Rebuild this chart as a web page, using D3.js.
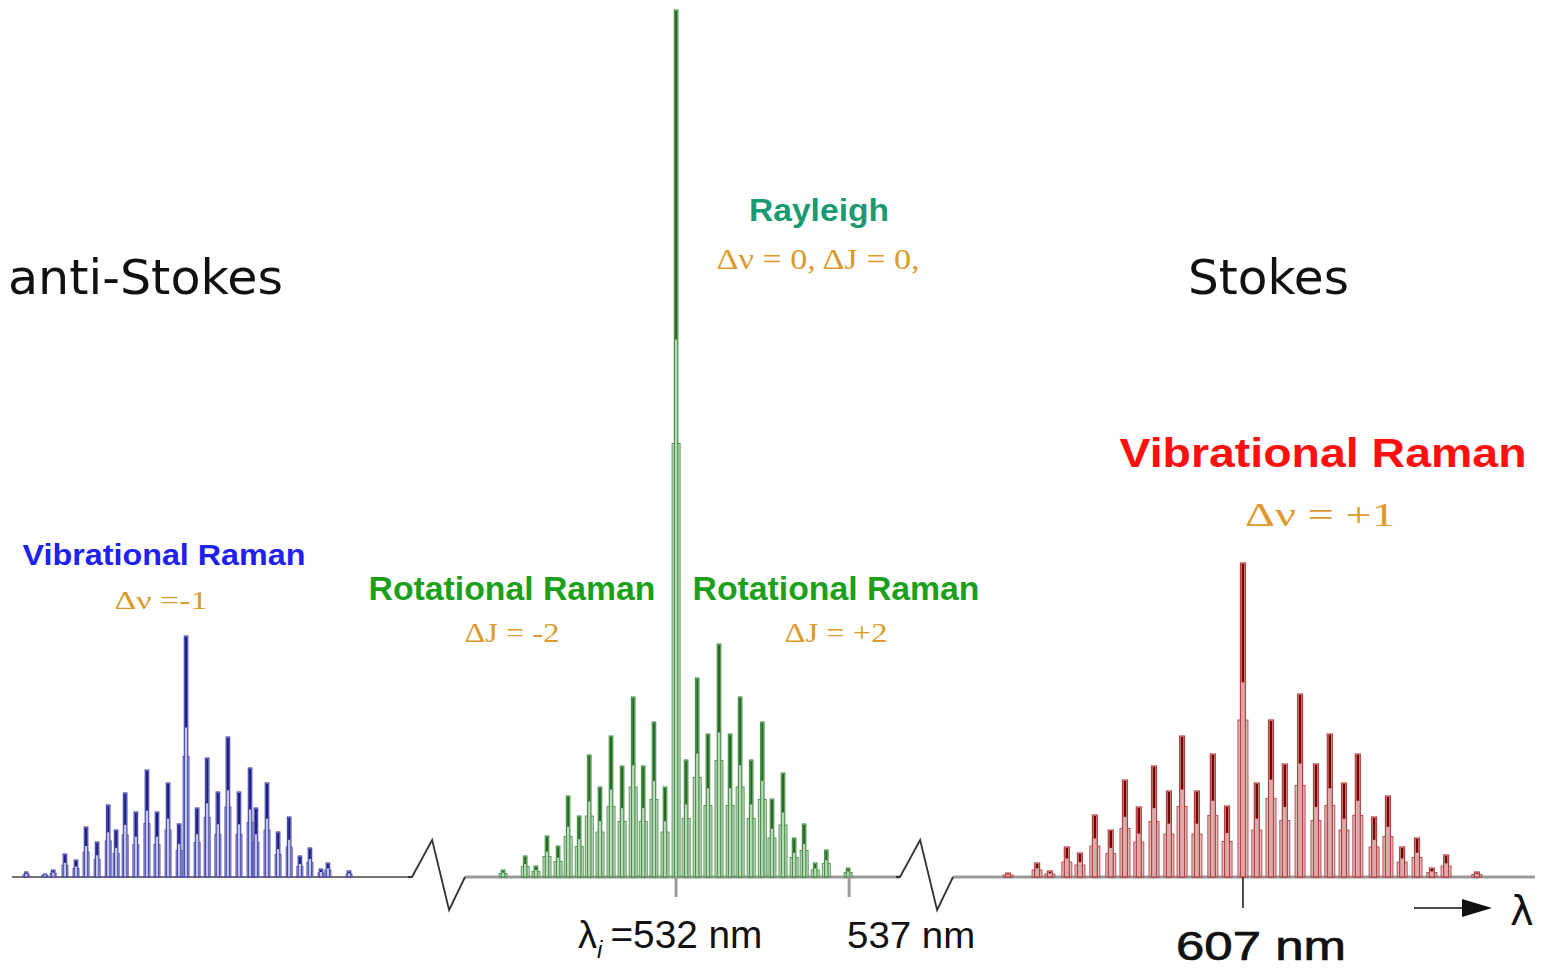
<!DOCTYPE html>
<html><head><meta charset="utf-8">
<script src="https://cdn.jsdelivr.net/npm/d3@7"></script>
<style>html,body{margin:0;padding:0;background:#fff;overflow:hidden}</style>
</head><body>
<svg id="c" width="1547" height="969"></svg>
<script>
// ---- data (wavelength in nm, intensity in arbitrary units) ----
const antiStokesNm = [468.38,468.92,469.16,469.50,469.82,470.11,470.43,470.75,470.98,471.24,471.55,471.87,472.16,472.48,472.80,473.00,473.32,473.61,473.92,474.21,474.53,474.85,475.02,475.34,475.66,475.98,476.29,476.58,476.90,477.10,477.71];
const antiStokesInt = [5,3,7,23,17,50,35,72,47,84,65,107,65,94,53,241,69,119,85,140,85,109,69,94,45,60,21,29,8,14,6];
const rotationalNm = [527.00,527.64,527.95,528.27,528.59,528.88,529.20,529.49,529.80,530.12,530.44,530.76,531.05,531.36,531.68,532.00,532.29,532.61,532.92,533.24,533.56,533.85,534.17,534.49,534.77,535.09,535.41,535.70,536.02,536.34,536.97];
const rotationalInt = [7,21,11,41,31,81,61,122,90,141,111,180,111,155,90,867,117,199,143,233,143,180,117,155,78,104,39,53,14,27,9];
const stokesNm = [600.21,601.05,601.42,601.91,602.29,602.72,603.18,603.59,603.99,604.43,604.86,605.24,605.67,606.13,606.54,607.00,607.40,607.81,608.21,608.65,609.11,609.51,609.92,610.32,610.79,611.19,611.60,612.03,612.46,612.87,613.76];
const stokesInt = [4,14,6,30,24,62,47,97,70,111,86,141,86,123,71,314,94,157,113,183,113,143,94,123,60,81,30,39,9,22,5];
const segmentDomains = [[467.97,479.53],[525.90,538.47],[598.62,615.44]];
const tickValues = [532, 537, 607];

const svg = d3.select("#c");
const segRanges = [[12,412],[465,900],[953,1535]];
const x = d3.scaleLinear()
  .domain(segmentDomains.flat())
  .range(segRanges.flat());
const y = d3.scaleLinear().domain([0, 867]).range([877, 10]);
const y0 = y(0);

// ---- axis segments ----
const axisStyles = [{c:"#444",w:1.6},{c:"#9a9a9a",w:3},{c:"#9a9a9a",w:3}];
segmentDomains.forEach((d,i)=>{
  svg.append("line").attr("x1",x(d[0])).attr("x2",x(d[1]))
    .attr("y1",y0).attr("y2",y0)
    .attr("stroke",axisStyles[i].c).attr("stroke-width",axisStyles[i].w);
});
// break zigzags
for (let i=0;i<2;i++){
  const a = x(segmentDomains[i][1]), b = x(segmentDomains[i+1][0]);
  const w = b - a;
  svg.append("path")
    .attr("d", `M${a-4},${y0} L${a},${y0} L${a+w*0.38},${y0-37} L${a+w*0.70},${y0+33} L${b},${y0}`)
    .attr("fill","none").attr("stroke","#333").attr("stroke-width",1.8);
}

// ---- peaks ----
function drawPeaks(nm, inten, st){
  const g = svg.append("g");
  nm.forEach((v,i)=>{
    const cx = x(v), h = inten[i];
    const yt = y(h), ys = y(h*0.5), ym = y(h*0.62);
    g.append("rect").attr("x",cx-st.sw/2).attr("y",ys).attr("width",st.sw).attr("height",y0-ys)
      .attr("fill",st.fill).attr("fill-opacity",0.75).attr("stroke",st.stroke).attr("stroke-width",0.9);
    g.append("rect").attr("x",cx-st.cw/2).attr("y",yt).attr("width",st.cw).attr("height",y0-yt)
      .attr("fill",st.fill).attr("stroke",st.stroke).attr("stroke-width",1.2);
    g.append("line").attr("x1",cx).attr("x2",cx).attr("y1",yt+1).attr("y2",ym)
      .attr("stroke",st.dark).attr("stroke-width",st.dw);
  });
}
drawPeaks(antiStokesNm, antiStokesInt, {sw:6,cw:3.5,fill:"#c4c4ea",stroke:"#4848a8",dark:"#1c1c88",dw:2});
drawPeaks(rotationalNm, rotationalInt, {sw:8,cw:3.5,fill:"#b9d8b9",stroke:"#4a8f4a",dark:"#1f6a1f",dw:2});
drawPeaks(stokesNm, stokesInt, {sw:10,cw:5,fill:"#dcaaaa",stroke:"#b04444",dark:"#7d0000",dw:2.6});

// ---- ticks ----
const tickStyle = [{c:"#9a9a9a",w:3,l:20},{c:"#9a9a9a",w:3,l:20},{c:"#222",w:1.6,l:31}];
tickValues.forEach((t,i)=>{
  svg.append("line").attr("x1",x(t)).attr("x2",x(t)).attr("y1",y0).attr("y2",y0+tickStyle[i].l)
    .attr("stroke",tickStyle[i].c).attr("stroke-width",tickStyle[i].w);
});
// tick labels
const lab1 = svg.append("text").attr("x",x(532)-98).attr("y",948)
  .attr("font-family","Liberation Sans, Arial, sans-serif").attr("font-size",38).attr("fill","#111");
lab1.append("tspan").text("λ");
lab1.append("tspan").attr("font-size",24).attr("dy",10).attr("font-style","italic").text("i");
lab1.append("tspan").attr("dy",-10).attr("dx",8).attr("textLength",152).attr("lengthAdjust","spacingAndGlyphs").text("=" + tickValues[0] + " nm");
svg.append("text").attr("x",x(537)-2).attr("y",948)
  .attr("font-family","Liberation Sans, Arial, sans-serif").attr("font-size",37).attr("fill","#111")
  .attr("textLength",128).attr("lengthAdjust","spacingAndGlyphs").text(tickValues[1] + " nm");
svg.append("text").attr("x",x(607)+18).attr("y",960).attr("text-anchor","middle")
  .attr("font-family","Liberation Sans, Arial, sans-serif").attr("font-size",40).attr("fill","#111")
  .attr("stroke","#111").attr("stroke-width",0.7).attr("textLength",170).attr("lengthAdjust","spacingAndGlyphs").text(tickValues[2] + " nm");

// wavelength arrow
svg.append("line").attr("x1",1414).attr("x2",1466).attr("y1",908).attr("y2",908).attr("stroke","#111").attr("stroke-width",1.6);
svg.append("path").attr("d","M1462,899 L1492,908 L1462,917 Z").attr("fill","#111");
svg.append("text").attr("x",1510).attr("y",925).attr("font-family","DejaVu Sans, sans-serif")
  .attr("font-size",40).attr("fill","#111").text("λ");

// ---- labels ----
function txt(xp, yp, s, size, color, opts={}){
  const t = svg.append("text").attr("x",xp).attr("y",yp).attr("text-anchor",opts.anchor||"middle")
    .attr("font-family",opts.family||"Liberation Sans, Arial, sans-serif")
    .attr("font-size",size).attr("fill",color).attr("font-weight",opts.weight||"normal").text(s);
  if (opts.len) t.attr("textLength",opts.len).attr("lengthAdjust","spacingAndGlyphs");
  return t;
}
const serif = "Liberation Serif, Times New Roman, serif";
const orange = "#dc9a2c";
txt(8, 294, "anti-Stokes", 48, "#111", {anchor:"start", family:"DejaVu Sans, Verdana, sans-serif", len:275});
txt(1188, 294, "Stokes", 48, "#111", {anchor:"start", family:"DejaVu Sans, Verdana, sans-serif", len:161});

txt(819, 221, "Rayleigh", 32, "#1a9a70", {weight:"bold", len:140});
txt(818, 269, "Δν = 0, ΔJ = 0,", 29, orange, {family:serif, len:203});

txt(164, 565, "Vibrational Raman", 29, "#2020f0", {weight:"bold", len:283});
txt(161, 609, "Δν =-1", 26, orange, {family:serif, len:93});

txt(512, 600, "Rotational Raman", 33, "#1ca01c", {weight:"bold", len:287});
txt(512, 642, "ΔJ = -2", 28, orange, {family:serif, len:95});
txt(836, 600, "Rotational Raman", 33, "#1ca01c", {weight:"bold", len:287});
txt(836, 642, "ΔJ = +2", 28, orange, {family:serif, len:103});

txt(1323, 467, "Vibrational Raman", 40, "#ff1010", {weight:"bold", len:407});
txt(1320, 526, "Δν = +1", 34, orange, {family:serif, len:150});
</script>
</body></html>
